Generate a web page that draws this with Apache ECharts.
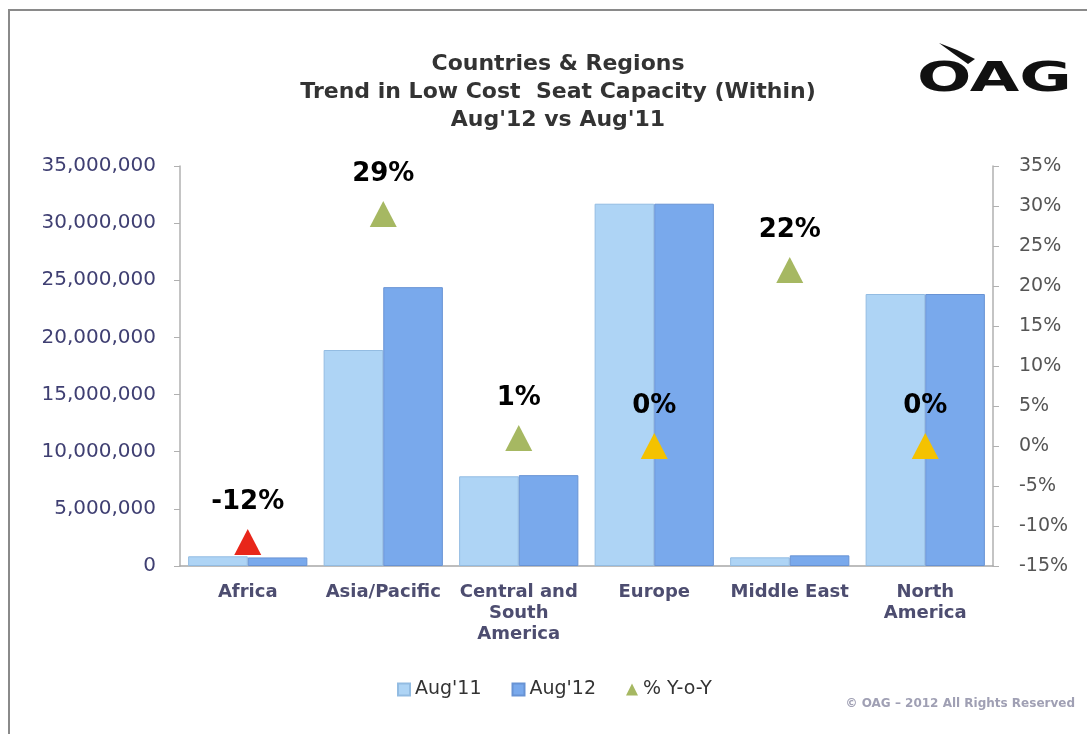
<!DOCTYPE html>
<html>
<head>
<meta charset="utf-8">
<script src="https://cdn.jsdelivr.net/npm/echarts@6/dist/echarts.min.js"></script>
<style>
  html, body { margin: 0; padding: 0; background: #ffffff; }
  #chart { width: 1087px; height: 734px; }
</style>
</head>
<body>
<div id="chart"></div>
<script>
// Low cost seat capacity by region, Aug'11 vs Aug'12, with year-on-year change
const categories = ['Africa', 'Asia/Pacific', 'Central and\nSouth\nAmerica', 'Europe', 'Middle East', 'North\nAmerica'];
const seatsAug11 = [850000, 18900000, 7850000, 31700000, 760000, 23800000];
const seatsAug12 = [750000, 24400000, 7950000, 31700000, 930000, 23800000];
const yoyPercent = [-12, 29, 1, 0, 22, 0];

const leftTicks = { min: 0, max: 35000000, interval: 5000000 };
const rightTicks = { min: -15, max: 35, interval: 5 };

const FONT = 'DejaVu Sans';

// marker colour follows the sign of the change
function yoyColor(v) {
  if (v < 0) return '#e8261a';
  if (v === 0) return '#f4c200';
  return '#a6b862';
}

const chart = echarts.init(document.getElementById('chart'), null, { renderer: 'canvas' });

const option = {
  backgroundColor: '#ffffff',
  animation: false,
  title: {
    text: "Countries & Regions\nTrend in Low Cost  Seat Capacity (Within)\nAug'12 vs Aug'11",
    left: 558,
    top: 50,
    padding: 0,
    textAlign: 'center',
    textStyle: {
      fontFamily: FONT,
      fontSize: 22,
      fontWeight: 'bold',
      color: '#333333',
      lineHeight: 28
    }
  },
  legend: {
    left: 392,
    top: 675,
    itemWidth: 12,
    itemHeight: 12,
    itemGap: 30,
    textStyle: { fontFamily: FONT, fontSize: 19, color: '#333333' },
    data: [
      { name: "Aug'11", icon: 'rect' },
      { name: "Aug'12", icon: 'rect' },
      { name: '% Y-o-Y', icon: 'triangle' }
    ]
  },
  grid: { left: 180, right: 94, top: 166, bottom: 168, containLabel: false },
  xAxis: {
    type: 'category',
    data: categories,
    axisLine: { lineStyle: { color: '#a8a8a8', width: 1.5 } },
    axisTick: { show: false },
    axisLabel: {
      interval: 0,
      margin: 16,
      fontFamily: FONT,
      fontSize: 18,
      fontWeight: 'bold',
      color: '#4d4d70',
      lineHeight: 21
    }
  },
  yAxis: [
    {
      type: 'value',
      min: leftTicks.min,
      max: leftTicks.max,
      interval: leftTicks.interval,
      splitLine: { show: false },
      axisLine: { show: true, lineStyle: { color: '#b0b0b0', width: 1.5 } },
      axisTick: { show: true, length: 6, lineStyle: { color: '#b0b0b0' } },
      axisLabel: {
        margin: 24,
        fontFamily: FONT,
        fontSize: 20,
        color: '#3f3f72',
        formatter: v => v.toLocaleString('en-US')
      }
    },
    {
      type: 'value',
      position: 'right',
      min: rightTicks.min,
      max: rightTicks.max,
      interval: rightTicks.interval,
      splitLine: { show: false },
      axisLine: { show: true, lineStyle: { color: '#b0b0b0', width: 1.5 } },
      axisTick: { show: true, length: 6, lineStyle: { color: '#b0b0b0' } },
      axisLabel: {
        margin: 26,
        fontFamily: FONT,
        fontSize: 19,
        color: '#555555',
        formatter: v => v + '%'
      }
    }
  ],
  series: [
    {
      name: "Aug'11",
      type: 'bar',
      data: seatsAug11,
      barGap: '0%',
      barCategoryGap: '12%',
      itemStyle: { color: '#aed4f5', borderColor: '#93bce2', borderWidth: 1 }
    },
    {
      name: "Aug'12",
      type: 'bar',
      data: seatsAug12,
      barGap: '0%',
      barCategoryGap: '12%',
      itemStyle: { color: '#79a9ec', borderColor: '#6893d4', borderWidth: 1 }
    },
    {
      name: '% Y-o-Y',
      type: 'scatter',
      yAxisIndex: 1,
      symbol: 'triangle',
      symbolSize: [27, 26],
      itemStyle: { color: '#a6b862', opacity: 1 },
      z: 5,
      label: {
        show: true,
        position: 'top',
        distance: 14,
        fontFamily: FONT,
        fontSize: 26,
        fontWeight: 'bold',
        color: '#000000',
        formatter: p => p.value + '%'
      },
      data: yoyPercent.map(v => ({ value: v, itemStyle: { color: yoyColor(v), opacity: 1 } }))
    }
  ],
  graphic: [
    // frame lines along the top and left edges
    {
      type: 'polyline',
      shape: { points: [[9, 734], [9, 10], [1087, 10]] },
      style: { stroke: '#8a8a8a', lineWidth: 2, fill: null },
      silent: true
    },
    // OAG wordmark
    {
      type: 'text',
      x: 917,
      y: 61,
      scaleX: 1.6,
      style: {
        text: 'OAG',
        fontFamily: FONT,
        fontSize: 40,
        fontWeight: 'bold',
        fill: '#111111'
      }
    },
    {
      type: 'polygon',
      shape: { points: [[939, 43], [957, 50], [975, 59], [968, 64], [954, 54]] },
      style: { fill: '#111111' }
    },
    {
      type: 'text',
      x: 1075,
      y: 698,
      style: {
        text: '\u00A9 OAG \u2013 2012 All Rights Reserved',
        fontFamily: FONT,
        fontSize: 12,
        fontWeight: 'bold',
        fill: '#a0a0b4',
        align: 'right'
      }
    }
  ]
};

chart.setOption(option);
</script>
</body>
</html>
